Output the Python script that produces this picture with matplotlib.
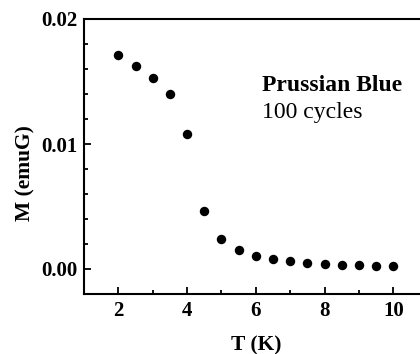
import matplotlib
matplotlib.use("Agg")
import matplotlib.pyplot as plt
from matplotlib.ticker import MultipleLocator

T = [2, 2.5, 3, 3.5, 4, 4.5, 5, 5.5, 6, 6.5, 7, 7.5, 8, 8.5, 9, 9.5, 10]
M = [0.0171, 0.01627, 0.01531, 0.01403, 0.01083, 0.00462, 0.00238, 0.0015,
     0.00104, 0.00078, 0.00062, 0.00051, 0.00043, 0.00035, 0.00032, 0.00027, 0.00024]
xticks = [2, 4, 6, 8, 10]
yticks = [0.0, 0.01, 0.02]
yticklabels = ["0.00", "0.01", "0.02"]

plt.rcParams['font.family'] = ['Liberation Serif', 'DejaVu Serif']

fig = plt.figure(figsize=(4.2, 3.54), dpi=100)
ax_b = 1 - 294/354
ax_h = (294 - 19)/354
ax = fig.add_axes([84/420, ax_b, (427.7 - 84)/420, ax_h])
ax.plot(T, M, 'o', color='black', markersize=6.8, markeredgewidth=0)
ax.set_xlim(1, 11)
ax.set_ylim(-0.002, 0.02)
ax.set_xticks(xticks)
ax.set_yticks(yticks)
ax.set_yticklabels(yticklabels)
ax.xaxis.set_minor_locator(MultipleLocator(1))
ax.yaxis.set_minor_locator(MultipleLocator(0.002))
ax.tick_params(which='both', direction='in', width=1.3, top=False, right=False)
ax.tick_params(which='major', length=5, labelsize=15, pad=5)
ax.tick_params(which='minor', length=3)
for lab in ax.get_xticklabels() + ax.get_yticklabels():
    lab.set_fontweight('bold')
for s in ax.spines.values():
    s.set_linewidth(1.5)
ax.set_xlabel("T (K)", fontsize=15.5, fontweight='bold')
ax.set_ylabel("M (emuG)", fontsize=15.5, fontweight='bold')
# place labels (axes coords)
ax.xaxis.set_label_coords((256 - 84)/343.7, (294 - 345)/275)
ax.yaxis.set_label_coords((25 - 84)/343.7, (294 - 173.5)/275)
ax.xaxis.label.set_va('center')
ax.yaxis.label.set_va('center')
fig.text(262/420, 1 - 91/354, "Prussian Blue",
         fontsize=17, fontweight='bold', va='baseline', ha='left')
fig.text(262/420, 1 - 118/354, "100 cycles",
         fontsize=17, va='baseline', ha='left')
fig.savefig("out.png", dpi=100)
